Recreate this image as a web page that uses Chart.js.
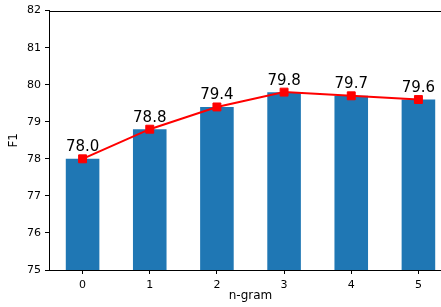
<!DOCTYPE html>
<html>
<head>
<meta charset="utf-8">
<script src="https://cdn.jsdelivr.net/npm/chart.js@4.4.0/dist/chart.umd.min.js"></script>
<style>
  html, body { margin: 0; padding: 0; background: #fff; overflow: hidden; }
  #wrap { width: 460px; height: 307px; }
</style>
</head>
<body>
<div id="wrap"><canvas id="chart" width="460" height="307"></canvas></div>
<script>
// chart data
const categories = ['0', '1', '2', '3', '4', '5'];
const barValues = [78.0, 78.8, 79.4, 79.8, 79.7, 79.6];
const lineValues = [78.0, 78.8, 79.4, 79.8, 79.7, 79.6];
const yTicks = [75, 76, 77, 78, 79, 80, 81, 82];

const FONT = 'DejaVu Sans';

// draws the value labels and the top spine
const extrasPlugin = {
    id: 'extras',
    afterDatasetsDraw(chart) {
        const ctx = chart.ctx;
        const area = chart.chartArea;
        ctx.save();
        ctx.strokeStyle = '#000';
        ctx.lineWidth = 1;
        ctx.beginPath();
        ctx.moveTo(area.left, Math.round(area.top) + 0.5);
        ctx.lineTo(area.right, Math.round(area.top) + 0.5);
        ctx.stroke();

        const meta = chart.getDatasetMeta(1);
        ctx.fillStyle = '#000';
        ctx.font = '15px "' + FONT + '"';
        ctx.textAlign = 'center';
        ctx.textBaseline = 'bottom';
        meta.data.forEach((pt, i) => {
            ctx.fillText(lineValues[i].toFixed(1), pt.x, pt.y - 4);
        });
        ctx.restore();
    }
};

new Chart(document.getElementById('chart'), {
    data: {
        labels: categories,
        datasets: [{
            type: 'bar',
            data: barValues,
            backgroundColor: '#1f77b4',
            barPercentage: 0.5,
            categoryPercentage: 1.0,
            order: 2
        }, {
            type: 'line',
            data: lineValues,
            borderColor: '#ff0000',
            backgroundColor: '#ff0000',
            borderWidth: 2,
            pointStyle: 'rect',
            pointRadius: 5.6,
            pointBorderWidth: 1,
            tension: 0,
            order: 1
        }]
    },
    options: {
        responsive: false,
        animation: false,
        layout: { padding: { top: 9, right: 8, left: 0, bottom: 0 } },
        plugins: {
            legend: { display: false },
            tooltip: { enabled: false }
        },
        scales: {
            x: {
                offset: true,
                grid: { offset: false, drawOnChartArea: false, drawTicks: true, tickLength: 4, color: '#000' },
                border: { display: true, color: '#000', width: 1 },
                ticks: { color: '#000', padding: 5, font: { family: FONT, size: 11 } },
                title: { display: true, text: 'n-gram', color: '#000', padding: { top: 4 }, font: { family: FONT, size: 12 } },
                afterFit(scale) { scale.height = 37; }
            },
            y: {
                min: 75,
                max: 82,
                afterBuildTicks(scale) { scale.ticks = yTicks.map(v => ({ value: v })); },
                grid: { drawOnChartArea: false, drawTicks: true, tickLength: 4, color: '#000' },
                border: { display: true, color: '#000', width: 1 },
                ticks: { color: '#000', padding: 4, font: { family: FONT, size: 11 } },
                title: { display: true, text: 'F1', color: '#000', padding: { bottom: 0, top: 7 }, font: { family: FONT, size: 12 } },
                afterFit(scale) { scale.width = 49; }
            }
        }
    },
    plugins: [extrasPlugin]
});
</script>
</body>
</html>
